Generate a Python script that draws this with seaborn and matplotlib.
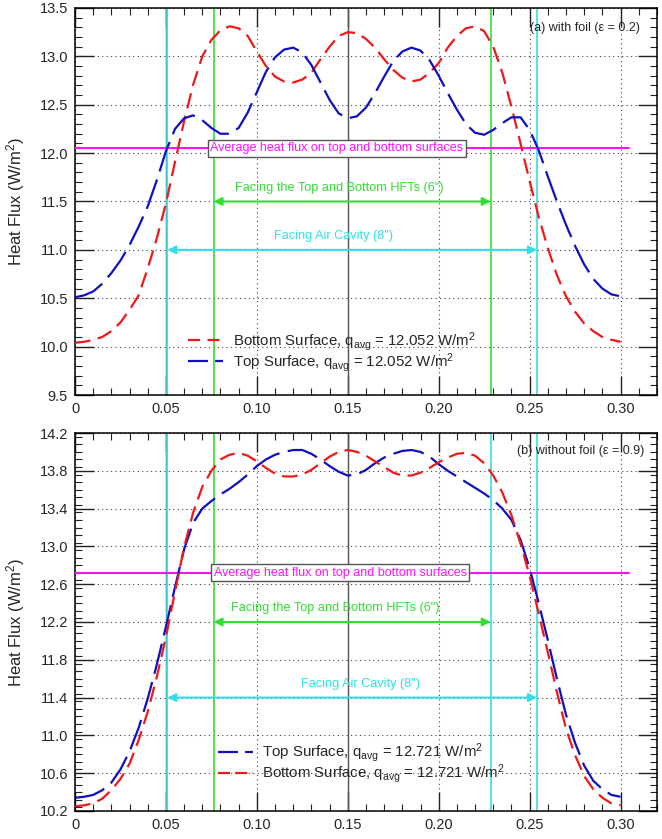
import numpy as np
import pandas as pd
import matplotlib
matplotlib.use('Agg')
import matplotlib.pyplot as plt
import seaborn as sns
from matplotlib.ticker import MultipleLocator, FixedLocator, FixedFormatter
from matplotlib.lines import Line2D

# ---------------- data ----------------
# distance along the plate (m), sampled every 5 mm
x_pos = [0.000, 0.005, 0.010, 0.015, 0.020, 0.025, 0.030, 0.035, 0.040, 0.045,
         0.050, 0.055, 0.060, 0.065, 0.070, 0.075, 0.080, 0.085, 0.090, 0.095,
         0.100, 0.105, 0.110, 0.115, 0.120, 0.125, 0.130, 0.135, 0.140, 0.145,
         0.150, 0.155, 0.160, 0.165, 0.170, 0.175, 0.180, 0.185, 0.190, 0.195,
         0.200, 0.205, 0.210, 0.215, 0.220, 0.225, 0.230, 0.235, 0.240, 0.245,
         0.250, 0.255, 0.260, 0.265, 0.270, 0.275, 0.280, 0.285, 0.290, 0.295,
         0.300]

# panel (a) with foil
a_bottom = [10.04, 10.05, 10.07, 10.10, 10.16, 10.25, 10.38, 10.53, 10.81, 11.12,
            11.48, 11.91, 12.33, 12.71, 13.00, 13.17, 13.27, 13.31, 13.29, 13.21,
            13.05, 12.90, 12.79, 12.74, 12.73, 12.76, 12.83, 12.97, 13.10, 13.21,
            13.25, 13.24, 13.18, 13.09, 12.97, 12.86, 12.78, 12.74, 12.76, 12.83,
            12.93, 13.09, 13.21, 13.29, 13.31, 13.26, 13.10, 12.83, 12.48, 12.10,
            11.71, 11.34, 11.02, 10.74, 10.52, 10.36, 10.24, 10.16, 10.10, 10.07,
            10.05]
a_top = [10.51, 10.53, 10.57, 10.65, 10.76, 10.89, 11.05, 11.24, 11.45, 11.72,
         12.02, 12.25, 12.36, 12.39, 12.34, 12.26, 12.20, 12.20, 12.26, 12.42,
         12.63, 12.84, 12.99, 13.07, 13.09, 13.04, 12.91, 12.73, 12.55, 12.41,
         12.36, 12.38, 12.47, 12.62, 12.79, 12.95, 13.05, 13.09, 13.06, 12.96,
         12.80, 12.62, 12.45, 12.30, 12.21, 12.19, 12.24, 12.31, 12.37, 12.37,
         12.24, 12.03, 11.76, 11.50, 11.26, 11.04, 10.85, 10.70, 10.60, 10.54,
         10.52]

# panel (b) without foil
b_top = [10.34, 10.35, 10.37, 10.42, 10.50, 10.64, 10.83, 11.08, 11.39, 11.75,
         12.15, 12.57, 12.97, 13.25, 13.40, 13.48, 13.55, 13.61, 13.68, 13.76,
         13.85, 13.92, 13.97, 14.00, 14.02, 14.02, 13.98, 13.92, 13.85, 13.79,
         13.75, 13.76, 13.81, 13.88, 13.94, 13.98, 14.01, 14.02, 14.00, 13.95,
         13.87, 13.80, 13.74, 13.68, 13.62, 13.56, 13.49, 13.40, 13.28, 13.07,
         12.77, 12.40, 12.01, 11.60, 11.22, 10.92, 10.68, 10.52, 10.43, 10.37,
         10.35]
b_bottom = [10.25, 10.26, 10.28, 10.33, 10.42, 10.54, 10.70, 10.95, 11.25, 11.62,
            12.04, 12.52, 12.99, 13.36, 13.63, 13.80, 13.92, 13.97, 13.99, 13.96,
            13.90, 13.83, 13.77, 13.74, 13.74, 13.76, 13.81, 13.88, 13.95, 14.00,
            14.02, 14.00, 13.96, 13.90, 13.84, 13.78, 13.75, 13.75, 13.78, 13.83,
            13.89, 13.94, 13.98, 13.99, 13.96, 13.88, 13.75, 13.57, 13.33, 13.03,
            12.69, 12.29, 11.88, 11.46, 11.07, 10.79, 10.57, 10.43, 10.34, 10.28,
            10.26]

q_avg_a = 12.052
q_avg_b = 12.721
hft_edges = [0.0762, 0.2286]      # 6" heat flux transducers
cavity_edges = [0.0508, 0.254]    # 8" air cavity
plate_end = 0.3048

x_ticks = [0, 0.05, 0.10, 0.15, 0.20, 0.25, 0.30]
x_ticklabels = ['0', '0.05', '0.10', '0.15', '0.20', '0.25', '0.30']
a_yticks = [9.5, 10.0, 10.5, 11.0, 11.5, 12.0, 12.5, 13.0, 13.5]
b_yticks = [10.2, 10.6, 11.0, 11.4, 11.8, 12.2, 12.6, 13.0, 13.4, 13.8, 14.2]

# ---------------- style ----------------
sns.set_style('ticks')
plt.rcParams['font.family'] = ['Liberation Sans', 'DejaVu Sans']
plt.rcParams['mathtext.fontset'] = 'custom'
plt.rcParams['mathtext.rm'] = 'Liberation Sans'
plt.rcParams['mathtext.it'] = 'Liberation Sans:italic'
plt.rcParams['mathtext.default'] = 'regular'

RED = '#f01818'
BLUE = '#1010c0'
GREEN = '#33dd33'
CYAN = '#30e0e8'
MAGENTA = '#ff10ff'

fig = plt.figure(figsize=(6.62, 8.39), dpi=100)
ax1 = fig.add_axes([0.1133, 0.5292, 0.879, 0.4613])
ax2 = fig.add_axes([0.1133, 0.0334, 0.879, 0.4505])

RED_DASH = (7.0, 3.4)
BLUE_DASH = (14.0, 3.8)
LW = 1.6


def draw(ax, x, y, color, dash):
    df = pd.DataFrame({'x': x, 'q': y})
    sns.lineplot(data=df, x='x', y='q', ax=ax, color=color, lw=LW, estimator=None, sort=False, zorder=5)
    ax.lines[-1].set_dashes(dash)


def setup(ax, ylim, yticks, yminor):
    ax.set_xlim(0, 0.32)
    ax.set_ylim(*ylim)
    ax.xaxis.set_major_locator(FixedLocator(x_ticks))
    ax.xaxis.set_major_formatter(FixedFormatter(x_ticklabels))
    ax.xaxis.set_minor_locator(MultipleLocator(0.01))
    ax.yaxis.set_major_locator(FixedLocator(yticks))
    ax.set_yticklabels([f'{v:.1f}' for v in yticks])
    ax.yaxis.set_minor_locator(MultipleLocator(yminor))
    ax.tick_params(which='major', direction='in', length=14, width=1, top=True, right=True,
                   labelsize=10.5, pad=5, color='#222222')
    ax.tick_params(which='minor', direction='in', length=5, width=0.8, top=True, right=True, color='#222222')
    ax.grid(True, which='major', color='#444444', linestyle=(0, (1, 3)), lw=0.8)
    for s in ax.spines.values():
        s.set_linewidth(1.1)
        s.set_color('black')
    for xv in (0.05, 0.15):
        ax.axvline(xv, color='#555555', lw=1.0, zorder=1)


def finish(ax):
    ax.set_xlabel('')
    ax.set_ylabel('Heat Flux (W/m$^2$)', fontsize=12, labelpad=9)


def arrow(ax, x0, x1, y, color, text, tx):
    ax.annotate('', xy=(x1, y), xytext=(x0, y),
                arrowprops=dict(arrowstyle='<|-|>', color=color, lw=1.5, mutation_scale=12,
                                shrinkA=0, shrinkB=0), zorder=4)
    ax.annotate(text, xy=(tx, y), xytext=(0, 10), textcoords='offset points',
                ha='center', va='center', color=color, fontsize=9.2, zorder=4)


# ---------------- panel (a) ----------------
setup(ax1, (9.5, 13.5), a_yticks, 0.1)
for xv in cavity_edges:
    ax1.axvline(xv, color=CYAN, lw=1.2, zorder=2)
for xv in hft_edges:
    ax1.axvline(xv, color=GREEN, lw=1.2, zorder=2)
ax1.plot([0, plate_end], [q_avg_a, q_avg_a], color=MAGENTA, lw=1.5, zorder=3)
ax1.text(0.144, q_avg_a, 'Average heat flux on top and bottom surfaces', ha='center', va='center',
         color=MAGENTA, fontsize=9, zorder=6,
         bbox=dict(boxstyle='square,pad=0.2', fc='white', ec='#555555', lw=1))
arrow(ax1, hft_edges[0], hft_edges[1], 11.5, GREEN, 'Facing the Top and Bottom HFTs (6")', 0.1456)
arrow(ax1, cavity_edges[0], cavity_edges[1], 11.0, CYAN, 'Facing Air Cavity (8")', 0.142)
draw(ax1, x_pos, a_bottom, RED, RED_DASH)
draw(ax1, x_pos, a_top, BLUE, BLUE_DASH)
finish(ax1)
ax1.text(0.971, 0.948, '(a) with foil (ε = 0.2)', transform=ax1.transAxes, ha='right', va='center', fontsize=9)

h_red = Line2D([], [], color=RED, lw=LW, dashes=(5.4, 3.4))
h_blue = Line2D([], [], color=BLUE, lw=LW, dashes=(9.0, 3.2))
ax1.legend([h_red, h_blue],
           [f'Bottom Surface, q$_{{avg}}$ = {q_avg_a:.3f} W/m$^2$',
            f'Top Surface, q$_{{avg}}$ = {q_avg_a:.3f} W/m$^2$'],
           loc='center left', bbox_to_anchor=(0.195, 0.112), frameon=False, fontsize=10.8,
           handlelength=2.3, handletextpad=0.65, labelspacing=-0.12, borderpad=0, borderaxespad=0)

# ---------------- panel (b) ----------------
setup(ax2, (10.2, 14.2), b_yticks, 0.08)
ax2.axvline(cavity_edges[0], color=CYAN, lw=1.2, zorder=2)
ax2.axvline(hft_edges[0], color=GREEN, lw=1.2, zorder=2)
ax2.axvline(hft_edges[1], color=CYAN, lw=1.2, zorder=2)
ax2.axvline(cavity_edges[1], color=CYAN, lw=1.2, zorder=2)
ax2.plot([0, plate_end], [q_avg_b, q_avg_b], color=MAGENTA, lw=1.5, zorder=3)
ax2.text(0.146, q_avg_b, 'Average heat flux on top and bottom surfaces', ha='center', va='center',
         color=MAGENTA, fontsize=9, zorder=6,
         bbox=dict(boxstyle='square,pad=0.2', fc='white', ec='#555555', lw=1))
arrow(ax2, hft_edges[0], hft_edges[1], 12.2, GREEN, 'Facing the Top and Bottom HFTs (6")', 0.143)
arrow(ax2, cavity_edges[0], cavity_edges[1], 11.4, CYAN, 'Facing Air Cavity (8")', 0.157)
draw(ax2, x_pos, b_top, BLUE, BLUE_DASH)
draw(ax2, x_pos, b_bottom, RED, RED_DASH)
finish(ax2)
ax2.text(0.978, 0.952, '(b) without foil (ε = 0.9)', transform=ax2.transAxes, ha='right', va='center', fontsize=9)

h_blue2 = Line2D([], [], color=BLUE, lw=LW, dashes=(9.0, 3.2))
h_red2 = Line2D([], [], color=RED, lw=LW, dashes=(5.4, 2.4))
ax2.legend([h_blue2, h_red2],
           [f'Top Surface, q$_{{avg}}$ = {q_avg_b:.3f} W/m$^2$',
            f'Bottom Surface, q$_{{avg}}$ = {q_avg_b:.3f} W/m$^2$'],
           loc='center left', bbox_to_anchor=(0.246, 0.126), frameon=False, fontsize=10.8,
           handlelength=2.3, handletextpad=0.65, labelspacing=-0.12, borderpad=0, borderaxespad=0)

fig.savefig('out.png', dpi=100)
